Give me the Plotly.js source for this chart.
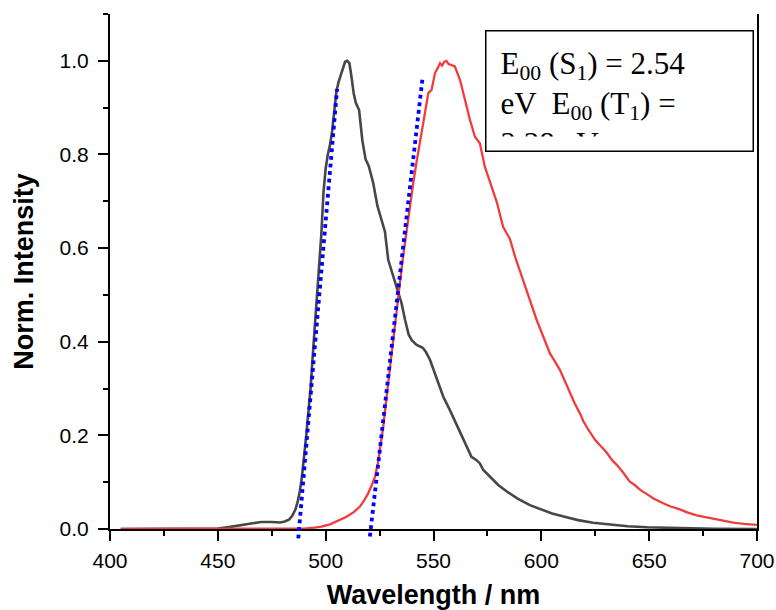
<!DOCTYPE html>
<html>
<head>
<meta charset="utf-8">
<script src="https://cdn.plot.ly/plotly-3.0.1.min.js"></script>
<style>html,body{margin:0;padding:0;background:#fff;}#chart{width:776px;height:610px;}</style>
</head>
<body>
<div id="chart"></div>
<script>
// S1 emission (black)
const s1Wavelength = [405,420,440,450,455,460,465,470,475,479,481,483,484.5,486,487,488,489,490,491,492,493,494,495,496,497,498,499,500,501,502,503,504,505,506,507,508,509,510,511,512,513,514,515.5,517,518.5,520,522,524,526,527.5,529,530.6,532.9,535.2,536.8,538.5,540,542.2,545,546.5,548.4,550,551.5,554.5,557.6,559.5,561.5,563.8,566,567.6,570,571.5,573.1,576,580,584,589,594.7,600,605,611.7,617,624,633,640,649,664,680,700];
const s1Intensity = [0,0,0,0.001,0.004,0.008,0.012,0.015,0.015,0.014,0.016,0.02,0.028,0.042,0.058,0.08,0.112,0.15,0.2,0.25,0.3,0.37,0.43,0.5,0.56,0.63,0.72,0.77,0.8,0.82,0.85,0.9,0.935,0.955,0.97,0.985,0.998,1.0,0.995,0.965,0.93,0.91,0.895,0.83,0.79,0.775,0.74,0.69,0.66,0.635,0.575,0.55,0.518,0.482,0.447,0.415,0.403,0.393,0.387,0.378,0.361,0.34,0.318,0.283,0.254,0.235,0.212,0.19,0.168,0.154,0.147,0.14,0.126,0.112,0.094,0.08,0.065,0.051,0.041,0.033,0.025,0.019,0.0135,0.0085,0.006,0.0036,0.0014,0.0005,0];

// T1 emission (red)
const t1Wavelength = [405,450,480,490,495,498,502,506,509.7,513,515.9,518,519.7,521.5,522.9,524.2,525.2,526.7,528.2,529.8,531.3,532.8,534.4,535.7,537,538.5,540.6,542,543.7,545,546,547.6,549.1,550.7,552,553,554,555,556,557,558.4,559.9,561,562.3,564.6,566.9,569.2,571.5,573.8,576.2,579.3,582.3,585.4,587.8,589.5,591.6,594.7,597.8,600.8,604,606,608.6,611,613.3,615.5,617.9,619.5,621.8,625,627.2,630,633,635,638,641,643,646,648.8,652,656.5,660,664.3,667.3,672,678,684,689,694,700];
const t1Intensity = [0,0,0,0.001,0.003,0.005,0.01,0.018,0.026,0.036,0.048,0.062,0.076,0.095,0.112,0.14,0.169,0.219,0.28,0.34,0.404,0.465,0.525,0.575,0.62,0.67,0.739,0.78,0.824,0.855,0.881,0.931,0.938,0.974,0.985,0.995,0.99,0.998,1.0,0.993,0.991,0.988,0.975,0.959,0.917,0.874,0.838,0.824,0.774,0.739,0.699,0.645,0.62,0.582,0.56,0.532,0.489,0.447,0.411,0.375,0.36,0.34,0.315,0.29,0.268,0.247,0.23,0.212,0.19,0.179,0.165,0.146,0.137,0.12,0.101,0.095,0.083,0.075,0.065,0.055,0.048,0.042,0.036,0.029,0.023,0.018,0.0135,0.011,0.009];

// Onset tangent lines (blue dotted)
const tangentS1X = [487.3, 505.3];
const tangentS1Y = [-0.02, 0.94];
const tangentT1X = [520.5, 545.0];
const tangentT1Y = [-0.016, 0.967];

const xTickVals = [400,450,500,550,600,650,700];
const yTickVals = [0.0,0.2,0.4,0.6,0.8,1.0];
const boxText = "E<sub>00</sub> (S<sub>1</sub>) = 2.54<br>eV  E<sub>00</sub> (T<sub>1</sub>) =<br>2.38 eV";

const W = 776, H = 610;
const mL = 110, mR = 19, mT = 14, mB = 61;
const plotH = H - mT - mB;          // 535
const axisBottomPx = 529;           // y of x-axis line
const yTop = 1.1001;
const mainDomBottom = (mT + plotH - axisBottomPx) / plotH;
const pxPerUnit = (axisBottomPx - mT) / yTop;
const extBottom = -((mT + plotH - axisBottomPx) / pxPerUnit);

const traces = [
  {x: tangentS1X, y: tangentS1Y, type:'scatter', mode:'lines',
   line:{color:'#0000ff', width:3.8, dash:'dot'}, xaxis:'x', yaxis:'y2', hoverinfo:'skip'},
  {x: tangentT1X, y: tangentT1Y, type:'scatter', mode:'lines',
   line:{color:'#0000ff', width:3.8, dash:'dot'}, xaxis:'x', yaxis:'y2', hoverinfo:'skip'},
  {x: s1Wavelength, y: s1Intensity, type:'scatter', mode:'lines',
   line:{color:'#474747', width:2.6}, xaxis:'x', yaxis:'y', hoverinfo:'skip'},
  {x: t1Wavelength, y: t1Intensity, type:'scatter', mode:'lines',
   line:{color:'#f03c3c', width:2.3}, xaxis:'x', yaxis:'y', hoverinfo:'skip'}
];

const axFont = {family:'Liberation Sans, Arial, sans-serif', size:21, color:'#000'};
const titleFont = {family:'Liberation Sans, Arial, sans-serif', size:27, color:'#000'};
const layout = {
  width: W, height: H,
  margin: {l:mL, r:mR, t:mT, b:mB, pad:0},
  paper_bgcolor:'#fff', plot_bgcolor:'rgba(0,0,0,0)',
  showlegend:false,
  xaxis: {
    range:[400,700], tickvals:xTickVals, ticktext:xTickVals.map(String),
    ticks:'outside', ticklen:10, tickwidth:2, tickcolor:'#000', ticklabelstandoff:2,
    minor:{dtick:25, tick0:400, ticks:'outside', ticklen:5, tickwidth:2, tickcolor:'#000'},
    showline:true, linecolor:'#000', linewidth:2, mirror:false,
    showgrid:false, zeroline:false, tickfont:axFont,
    title:{text:'<b>Wavelength / nm</b>', font:titleFont, standoff:14},
    anchor:'y'
  },
  yaxis: {
    domain:[mainDomBottom, 1], range:[0, yTop],
    tickvals:yTickVals, ticktext:yTickVals.map(v=>v.toFixed(1)),
    ticks:'outside', ticklen:10, tickwidth:2, tickcolor:'#000', ticklabelstandoff:5,
    minor:{dtick:0.1, tick0:0, ticks:'outside', ticklen:5, tickwidth:2, tickcolor:'#000'},
    showline:true, linecolor:'#000', linewidth:2, mirror:true,
    showgrid:false, zeroline:false, tickfont:axFont,
    title:{text:'<b>Norm. Intensity</b>', font:titleFont, standoff:18},
    anchor:'x'
  },
  yaxis2: {
    domain:[0,1], range:[extBottom, yTop], visible:false, anchor:'x',
    showgrid:false, zeroline:false
  },
  annotations: [{
    xref:'paper', yref:'paper',
    x:(485 - mL) / (W - mL - mR), y: 1 - (30 - mT) / plotH,
    xanchor:'left', yanchor:'top',
    text: boxText, showarrow:false, align:'left', valign:'top',
    width: 238, height: 91, borderpad: 14,
    bordercolor:'#000', borderwidth:1.5, bgcolor:'#fff',
    font:{family:'Liberation Serif, Times New Roman, serif', size:31, color:'#000'}
  }]
};

Plotly.newPlot('chart', traces, layout, {staticPlot:true, displayModeBar:false});
</script>
</body>
</html>
